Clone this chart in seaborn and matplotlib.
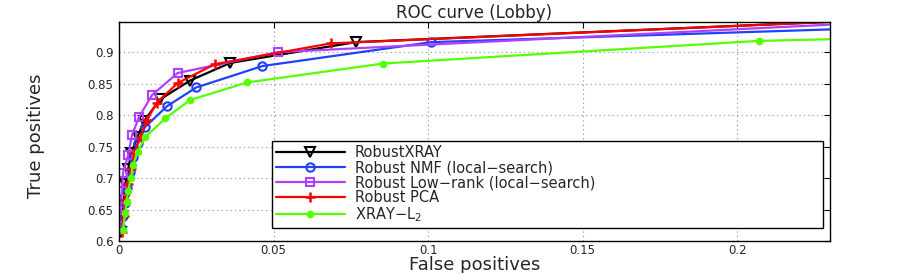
import matplotlib
matplotlib.use("Agg")
import matplotlib.pyplot as plt
import seaborn as sns
import numpy as np

# ---- data ----
xray_fp = [0.0005, 0.001, 0.0015, 0.002, 0.003, 0.004, 0.006, 0.008, 0.0133, 0.023, 0.036, 0.0766, 0.30]
xray_tp = [0.615, 0.64, 0.665, 0.69, 0.715, 0.74, 0.765, 0.79, 0.825, 0.855, 0.883, 0.916, 0.963]

nmf_fp = [0.0008, 0.0012, 0.0018, 0.0025, 0.0035, 0.0045, 0.006, 0.0084, 0.0155, 0.025, 0.0464, 0.101, 0.35]
nmf_tp = [0.62, 0.64, 0.66, 0.685, 0.71, 0.733, 0.755, 0.781, 0.814, 0.844, 0.878, 0.916, 0.955]

lr_fp = [0.0, 0.0002, 0.0004, 0.001, 0.0013, 0.003, 0.0042, 0.0065, 0.0107, 0.019, 0.0513, 0.30]
lr_tp = [0.617, 0.636, 0.654, 0.68, 0.708, 0.737, 0.768, 0.797, 0.832, 0.867, 0.90, 0.961]

pca_fp = [0.001, 0.0015, 0.002, 0.003, 0.004, 0.005, 0.007, 0.009, 0.0123, 0.019, 0.031, 0.0685, 0.30]
pca_tp = [0.615, 0.64, 0.665, 0.69, 0.715, 0.74, 0.765, 0.792, 0.82, 0.851, 0.881, 0.914, 0.963]

l2_fp = [0.0013, 0.002, 0.0025, 0.003, 0.0038, 0.0045, 0.006, 0.0085, 0.015, 0.023, 0.0415, 0.0854, 0.207, 0.40]
l2_tp = [0.617, 0.645, 0.662, 0.68, 0.70, 0.72, 0.742, 0.765, 0.795, 0.824, 0.852, 0.882, 0.918, 0.94]

labels = ["RobustXRAY", "Robust NMF (local\u2212search)", "Robust Low\u2212rank (local\u2212search)",
          "Robust PCA", "XRAY\u2212L$_2$"]
xticks = [0, 0.05, 0.1, 0.15, 0.2]
xticklabels = ["0", "0.05", "0.1", "0.15", "0.2"]
yticks = [0.6, 0.65, 0.7, 0.75, 0.8, 0.85, 0.9]
yticklabels = ["0.6", "0.65", "0.7", "0.75", "0.8", "0.85", "0.9"]

sns.set_theme(style="white")
plt.rcParams['font.family'] = ['DejaVu Sans']
plt.rcParams['mathtext.fontset'] = 'dejavusans'

fig = plt.figure(figsize=(9.13, 2.73), dpi=100)
ax = fig.add_axes([0.1303, 0.1172, 0.909 - 0.1303, 0.9194 - 0.1172])

series = [
    (xray_fp, xray_tp, "black", "v", dict(mfc="none", mec="black", ms=7, mew=1.5)),
    (nmf_fp, nmf_tp, "#2040ff", "o", dict(mfc="none", mec="#2040ff", ms=6, mew=1.5)),
    (lr_fp, lr_tp, "#b040ff", "s", dict(mfc="none", mec="#b040ff", ms=6, mew=1.5)),
    (pca_fp, pca_tp, "#ff0000", "+", dict(mec="#ff0000", ms=7, mew=1.8)),
    (l2_fp, l2_tp, "#55ff00", "o", dict(mfc="#55ff00", mec="#55ff00", ms=4, mew=1.5)),
]
for (xs, ys, c, m, kw), lab in zip(series, labels):
    sns.lineplot(x=xs, y=ys, ax=ax, color=c, marker=m, linewidth=1.6,
                 sort=False, estimator=None, label=lab, **kw)

ax.set_xlim(0, 0.23)
ax.set_ylim(0.6, 0.948)
ax.set_xticks(xticks)
ax.set_xticklabels(xticklabels)
ax.set_yticks(yticks)
ax.set_yticklabels(yticklabels)
ax.tick_params(direction="in", top=True, right=True, length=4, width=0.8,
               labelsize=8.5, color="black", pad=2)
ax.tick_params(axis="y", pad=4)
ax.grid(True, linestyle=(0, (1, 3)), color="0.55", linewidth=0.8)
for s in ax.spines.values():
    s.set_color("black")
    s.set_linewidth(1.0)

ax.set_title("ROC curve (Lobby)", fontsize=12, pad=3)
ax.set_xlabel("False positives", fontsize=13)
ax.xaxis.set_label_coords(0.5, -0.07)
ax.set_ylabel("True positives", fontsize=13)
ax.yaxis.set_label_coords(-0.104, 0.48)

leg = ax.legend(loc="lower left", bbox_to_anchor=(0.215, 0.059, 0.775, 0.39),
                mode="expand", borderaxespad=0,
                fontsize=10.5, frameon=True, fancybox=False, edgecolor="black",
                framealpha=1, handlelength=4.7, handletextpad=0.7, labelspacing=0.0,
                borderpad=0.3)
leg.get_frame().set_linewidth(1.0)

fig.savefig("out.png", dpi=100)
